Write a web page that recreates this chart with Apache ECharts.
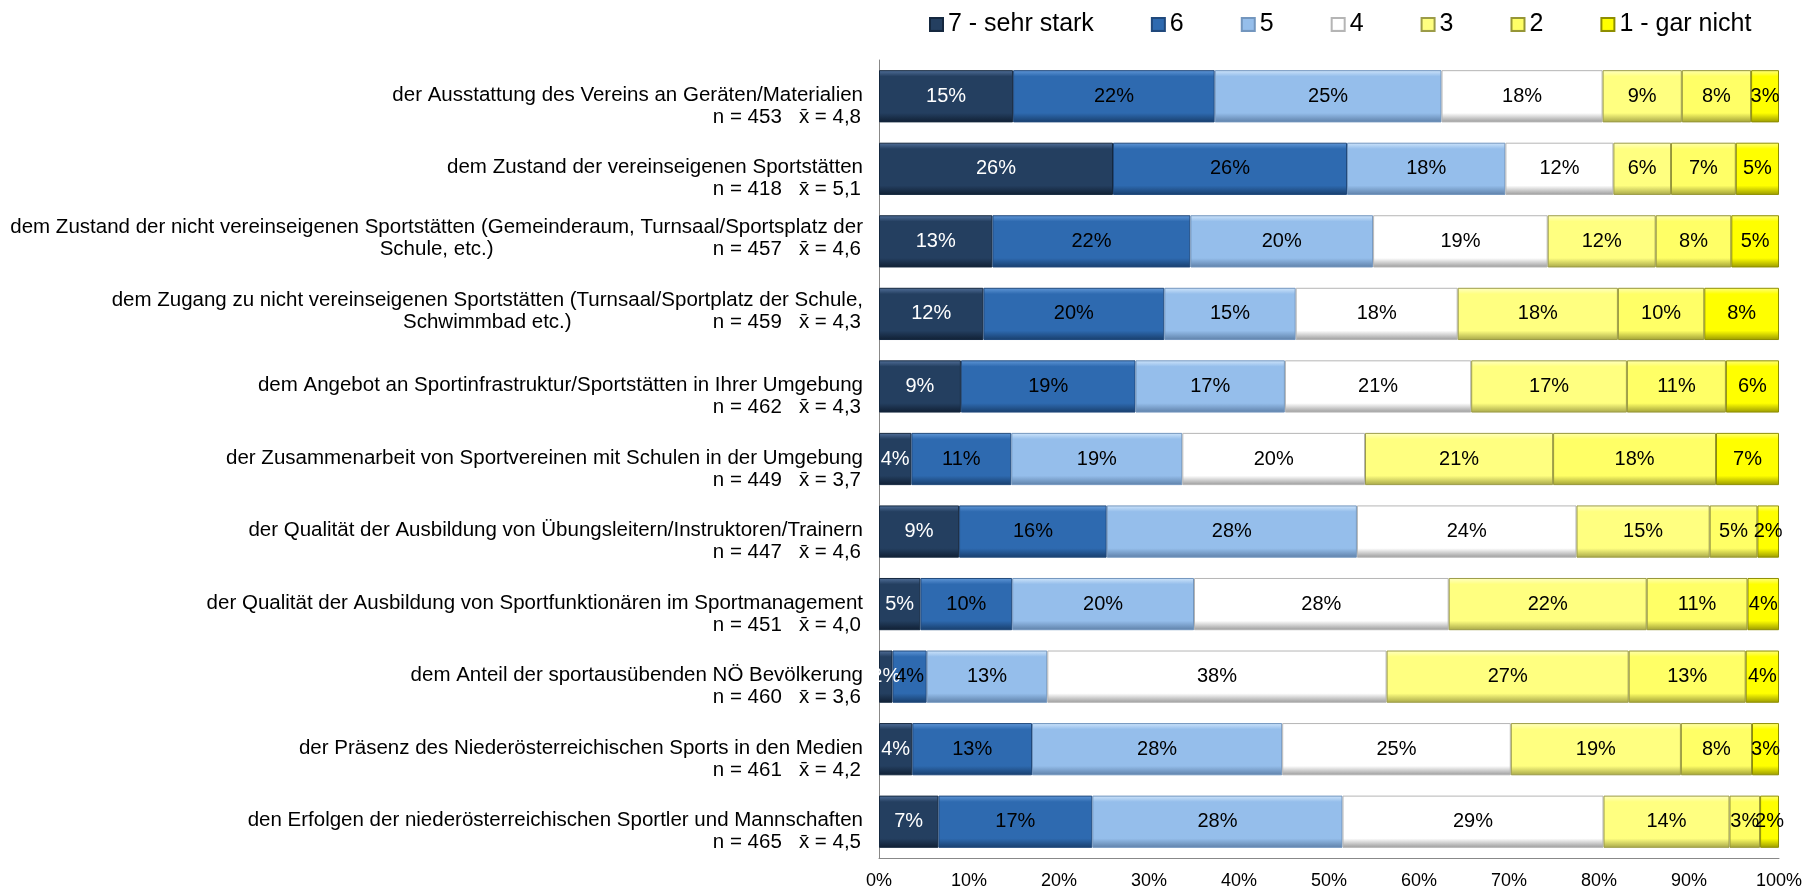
<!DOCTYPE html>
<html>
<head>
<meta charset="utf-8">
<script src="https://cdn.jsdelivr.net/npm/echarts@6.0.0/dist/echarts.min.js"></script>
<style>
  html, body { margin: 0; padding: 0; background: #fff; }
  #main { width: 1806px; height: 889px; }
</style>
</head>
<body>
<div id="main"></div>
<script>
// Zustimmung 7 (sehr stark) ... 1 (gar nicht), Anteile in %
var categories = [
  "der Ausstattung des Vereins an Geräten/Materialien",
  "dem Zustand der vereinseigenen Sportstätten",
  "dem Zustand der nicht vereinseigenen Sportstätten (Gemeinderaum, Turnsaal/Sportsplatz der\nSchule, etc.)",
  "dem Zugang zu nicht vereinseigenen Sportstätten (Turnsaal/Sportplatz der Schule,\nSchwimmbad etc.)",
  "dem Angebot an Sportinfrastruktur/Sportstätten in Ihrer Umgebung",
  "der Zusammenarbeit von Sportvereinen mit Schulen in der Umgebung",
  "der Qualität der Ausbildung von Übungsleitern/Instruktoren/Trainern",
  "der Qualität der Ausbildung von Sportfunktionären im Sportmanagement",
  "dem Anteil der sportausübenden NÖ Bevölkerung",
  "der Präsenz des Niederösterreichischen Sports in den Medien",
  "den Erfolgen der niederösterreichischen Sportler und Mannschaften"
];
var nValues = [453, 418, 457, 459, 462, 449, 447, 451, 460, 461, 465];
var means = ["4,8", "5,1", "4,6", "4,3", "4,3", "3,7", "4,6", "4,0", "3,6", "4,2", "4,5"];

var levels = ["7 - sehr stark", "6", "5", "4", "3", "2", "1 - gar nicht"];
var s7 = [14.9, 26.0, 12.6, 11.6, 9.1, 3.6, 8.9, 4.6, 1.5, 3.7, 6.6];
var s6 = [22.4, 26.0, 22.0, 20.1, 19.4, 11.1, 16.4, 10.2, 3.8, 13.3, 17.1];
var s5 = [25.2, 17.6, 20.3, 14.6, 16.6, 19.0, 27.8, 20.2, 13.4, 27.8, 27.8];
var s4 = [17.9, 12.0, 19.4, 18.0, 20.7, 20.3, 24.4, 28.3, 37.7, 25.4, 29.0];
var s3 = [8.8, 6.4, 12.0, 17.8, 17.3, 20.9, 14.8, 22.0, 26.9, 18.9, 14.0];
var s2 = [7.7, 7.2, 8.4, 9.6, 11.0, 18.1, 5.3, 11.2, 13.0, 7.9, 3.4];
var s1 = [3.1, 4.8, 5.3, 8.3, 5.9, 7.0, 2.4, 3.5, 3.7, 3.0, 2.1];
var seriesValues = [s7, s6, s5, s4, s3, s2, s1];

// base, highlight, shadow, border
var palette = [
  ["#243F60", "#52709A", "#101F33", "#15283F"],
  ["#2E6AB0", "#6198D8", "#183E6C", "#20497C"],
  ["#95BEEB", "#CFE5FB", "#5E80A8", "#7396BE"],
  ["#FFFFFF", "#FFFFFF", "#9A9A9A", "#B5B5B5"],
  ["#FFFF80", "#FFFFC4", "#A6A648", "#9C9C48"],
  ["#FFFF66", "#FFFFAE", "#A0A036", "#969636"],
  ["#FFFF00", "#FFFF80", "#999900", "#8E8E00"]
];

var FONT = "'Liberation Sans', Arial, sans-serif";

function bevel(p) {
  return new echarts.graphic.LinearGradient(0, 0, 0, 1, [
    { offset: 0, color: p[1] },
    { offset: 0.12, color: p[0] },
    { offset: 0.82, color: p[0] },
    { offset: 1, color: p[2] }
  ]);
}

function isWrapped(i) {
  return categories[i].indexOf("\n") >= 0;
}

var series = seriesValues.map(function (vals, k) {
  return {
    name: levels[k],
    type: "bar",
    stack: "total",
    barWidth: "72%",
    data: vals,
    itemStyle: {
      color: bevel(palette[k]),
      borderColor: palette[k][3],
      borderWidth: 1
    },
    label: {
      show: true,
      position: "inside",
      fontFamily: FONT,
      fontSize: 20,
      color: k === 0 ? "#fff" : "#000",
      formatter: function (p) {
        return Math.round(p.value) + "%";
      }
    }
  };
});

var chart = echarts.init(document.getElementById("main"));
chart.setOption({
  animation: false,
  backgroundColor: "#fff",
  legend: {
    data: levels,
    left: 924,
    top: 7,
    icon: "rect",
    itemWidth: 13,
    itemHeight: 13,
    itemGap: 57,
    textStyle: { fontFamily: FONT, fontSize: 25, color: "#000" }
  },
  grid: {
    left: 879,
    right: 27,
    top: 60,
    bottom: 31,
    containLabel: false,
    outerBoundsMode: "none"
  },
  xAxis: {
    type: "value",
    min: 0,
    max: 100,
    interval: 10,
    axisLine: { show: true, lineStyle: { color: "#888", width: 1 } },
    axisTick: { show: false },
    splitLine: { show: false },
    axisLabel: {
      formatter: "{value}%",
      fontFamily: FONT,
      fontSize: 18,
      color: "#000",
      margin: 14
    }
  },
  yAxis: [
    {
      type: "category",
      data: categories,
      inverse: true,
      position: "left",
      axisLine: { show: true, lineStyle: { color: "#888", width: 1 } },
      axisTick: { show: false },
      axisLabel: {
        interval: 0,
        margin: 16,
        fontFamily: FONT,
        fontSize: 20.5,
        color: "#000",
        formatter: function (v, i) {
          var lines = v.split("\n");
          if (lines.length > 1) {
            return "{c|" + lines[0] + "}\n{c|" + lines[1] + "}\n{e| }";
          }
          return "{e2| }\n{c|" + lines[0] + "}\n{c| }";
        },
        rich: {
          c: { align: "center", fontFamily: FONT, fontSize: 20.5, lineHeight: 22, color: "#000" },
          e: { fontFamily: FONT, fontSize: 20.5, lineHeight: 6 },
          e2: { fontFamily: FONT, fontSize: 20.5, lineHeight: 20 }
        }
      }
    },
    {
      type: "category",
      data: categories,
      inverse: true,
      position: "left",
      axisLine: { show: false },
      axisTick: { show: false },
      axisLabel: {
        interval: 0,
        margin: 18,
        fontFamily: FONT,
        fontSize: 20.5,
        color: "#000",
        formatter: function (v, i) {
          var stat = "n = " + nValues[i] + "   x\u0304 = " + means[i];
          if (isWrapped(i)) {
            return "{s| }\n{s|" + stat + "}\n{e| }";
          }
          return "{e2| }\n{s| }\n{s|" + stat + "}";
        },
        rich: {
          s: { align: "right", fontFamily: FONT, fontSize: 20.5, lineHeight: 22, color: "#000" },
          e: { fontFamily: FONT, fontSize: 20.5, lineHeight: 6 },
          e2: { fontFamily: FONT, fontSize: 20.5, lineHeight: 20 }
        }
      }
    }
  ],
  series: series
});
</script>
</body>
</html>
